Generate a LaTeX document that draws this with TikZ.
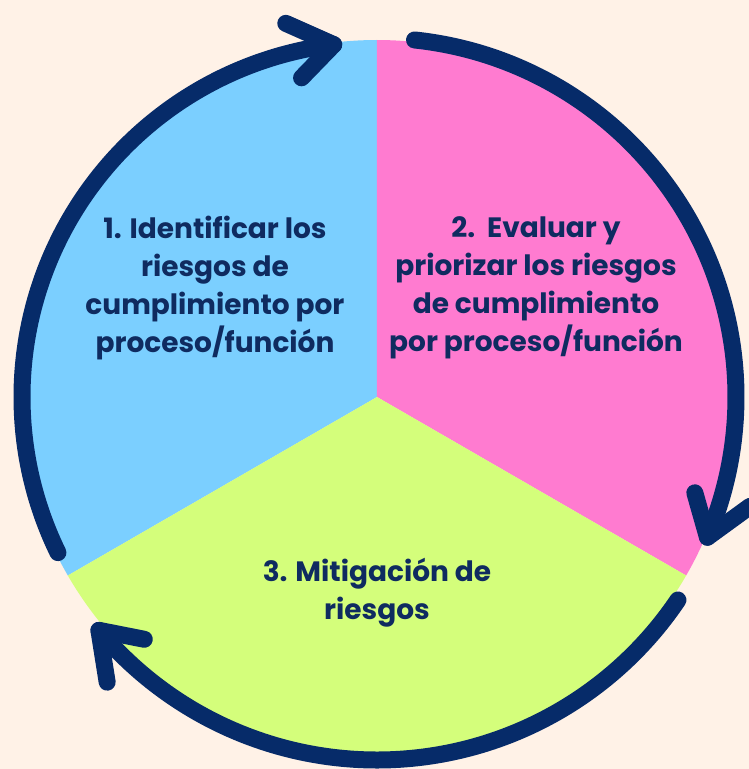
\documentclass[tikz,border=0pt]{standalone}
\usepackage{fontspec}
\setmainfont{Poppins}

\definecolor{cream}{HTML}{FFF2E7}
\definecolor{segblue}{HTML}{7BCFFF}
\definecolor{segpink}{HTML}{FF7BD0}
\definecolor{seggreen}{HTML}{D4FE7B}
\definecolor{arcnavy}{HTML}{062B69}
\definecolor{textnavy}{HTML}{0F2B60}

\begin{document}
\begin{tikzpicture}[
    x=1pt,
    y=1pt,
    cyclearc/.style={
        draw=arcnavy,
        line width=17pt,
        line cap=round,
        line join=round,
    },
    steptext/.style={
        text=textnavy,
        align=center,
        font=\fontsize{28}{38}\selectfont\bfseries,
    },
]
    % background and page size
    \fill[cream] (-377,-372) rectangle (372,397);
    \useasboundingbox (-377,-372) rectangle (372,397);

    \foreach \col/\a in {segblue/90,segpink/-30,seggreen/210} {
        \fill[\col] (0,0) -- (\a:357) arc[start angle=\a, delta angle=120, radius=357] -- cycle;
    }

    % arcs, with the open arrowhead at the end of each
    \foreach \s/\e/\r in {206/97/355,84/-23/359,-34/-140/363} {
        \draw[cyclearc] (\s:\r) arc[start angle=\s, end angle=\e, radius=\r];
        \draw[cyclearc,shift={(\e:\r)},rotate=\e-90] (-45,27) -- (0,0) -- (-36,-29);
    }

    \node[steptext] (step1) at (-162,109) {1. Identificar los\\riesgos de\\cumplimiento por\\proceso/función};
    \node[steptext] (step2) at (159,109) {2.\ \ Evaluar y\\priorizar los riesgos\\de cumplimiento\\por proceso/función};
    \node[steptext] (step3) at (0,-196) {3. Mitigación de\\riesgos};
\end{tikzpicture}
\end{document}
